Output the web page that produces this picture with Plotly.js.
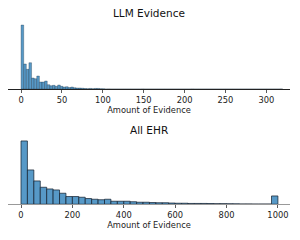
<!DOCTYPE html>
<html><head><meta charset="utf-8">
<script src="https://cdn.plot.ly/plotly-3.0.1.min.js"></script>
<style>body{margin:0;}#c{width:300px;height:240px;}</style>
</head><body><div id="c"></div>
<script>
// LLM Evidence histogram (bin width 3.2, starting at 0)
const llmBinWidth = 3.2;
const llmCounts = [640,250,197,263,110,103,130,70,70,80,43,33,37,27,40,27,20,23,15,20,13,10,10,8,5,4,6,3,6,6,3,2,
  0,1,0,0,0,0,0,0,0,0,0,0,0,0,1,0,0,0,0,0,0,0,0,0,0,0,0,0,0,0,0,0,0,1,0,0,0,0,0,0,0,0,0,0,0,0,0,0,0,0,0,0,0,0,0,0,0,0,0,0,0,0,0,0,0,0,0,1];
// All EHR histogram (bin width 25, 0..1000)
const ehrBinWidth = 25;
const ehrCounts = [633,343,233,170,153,143,110,77,77,70,57,50,45,50,30,30,30,25,20,20,17,15,15,12,10,10,8,8,8,7,6,6,5,4,3,3,2,2,2,83];
const llmTicks = [0,50,100,150,200,250,300];
const ehrTicks = [0,200,400,600,800,1000];

const llmX = llmCounts.map((_, i) => (i + 0.5) * llmBinWidth);
const ehrX = ehrCounts.map((_, i) => (i + 0.5) * ehrBinWidth);

const fill = '#5799c7';
const font = {family: 'DejaVu Sans', size: 8.3, color: '#222'};

const traces = [
  {type: 'bar', x: llmX, y: llmCounts, width: llmBinWidth, xaxis: 'x', yaxis: 'y',
   marker: {color: fill, line: {color: 'rgba(20,40,60,0.8)', width: 0.4}}, hoverinfo: 'skip'},
  {type: 'bar', x: ehrX, y: ehrCounts, width: ehrBinWidth, xaxis: 'x2', yaxis: 'y2',
   marker: {color: fill, line: {color: 'rgba(20,30,45,0.9)', width: 0.8}}, hoverinfo: 'skip'}
];

const xcommon = {
  showgrid: false, zeroline: false, showline: true, linewidth: 1,
  ticks: 'outside', ticklen: 3, tickwidth: 0.8, tickcolor: '#333',
  tickfont: font, title: {text: 'Amount of Evidence', font: font, standoff: 2},
  tickmode: 'array'
};

const layout = {
  width: 300, height: 240,
  margin: {l: 8, r: 10, t: 0, b: 0},
  paper_bgcolor: 'white', plot_bgcolor: 'white',
  showlegend: false, bargap: 0,
  xaxis: Object.assign({}, xcommon, {domain: [0, 1], anchor: 'y', range: [-16, 329], tickvals: llmTicks, linecolor: '#222'}),
  yaxis: {domain: [0.629, 0.909], range: [0, 672], visible: false, anchor: 'x'},
  xaxis2: Object.assign({}, xcommon, {domain: [0, 1], anchor: 'y2', range: [-50.6, 1047], tickvals: ehrTicks, linecolor: '#999'}),
  yaxis2: {domain: [0.149, 0.426], range: [0, 665], visible: false, anchor: 'x2'},
  annotations: [
    {text: 'LLM Evidence', xref: 'paper', yref: 'paper', x: 0.5, y: 1 - 13/240, showarrow: false,
     xanchor: 'center', yanchor: 'middle', font: {family: 'DejaVu Sans', size: 10.5, color: '#111'}},
    {text: 'All EHR', xref: 'paper', yref: 'paper', x: 0.5, y: 1 - 130/240, showarrow: false,
     xanchor: 'center', yanchor: 'middle', font: {family: 'DejaVu Sans', size: 10.5, color: '#111'}}
  ]
};

Plotly.newPlot('c', traces, layout, {staticPlot: true, displayModeBar: false});
</script>
</body></html>
